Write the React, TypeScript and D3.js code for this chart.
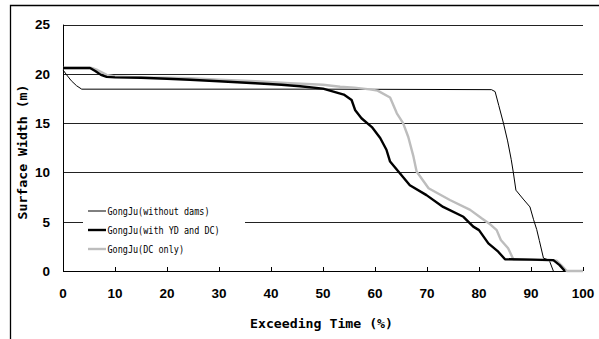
import React from 'react'
import * as d3 from 'd3'

// Exceeding time (%) / surface width (m) pairs
const withoutDamsX = [0, 0.7, 1.6, 2.6, 3.6, 20, 50, 82.4, 83.1, 83.8, 84.7, 85.5, 86.2, 86.6, 87.1, 88.5, 89.8, 90.5, 91.1, 91.6, 92.4, 93.5, 94.3]
const withoutDamsY = [20.4, 19.9, 19.3, 18.8, 18.45, 18.45, 18.45, 18.4, 18.2, 16.8, 15, 13.2, 11.3, 10, 8.2, 7.3, 6.5, 5.2, 4.2, 3.1, 1.3, 1.1, 0]

const withDamsX = [0, 5.2, 6.2, 7.3, 8.4, 10, 15, 20, 24.4, 30, 37, 42, 45.6, 50, 52, 54, 55.5, 56.2, 57.4, 59.4, 61, 62.2, 62.9, 64.5, 66.7, 69.9, 73.1, 77, 78.9, 80, 81.8, 83.7, 85, 90, 94.3, 95.5, 96.5]
const withDamsY = [20.6, 20.6, 20.3, 19.9, 19.7, 19.65, 19.6, 19.5, 19.4, 19.25, 19.05, 18.9, 18.75, 18.5, 18.2, 17.9, 17.35, 16.3, 15.5, 14.6, 13.5, 12.3, 11.1, 10.1, 8.7, 7.7, 6.5, 5.5, 4.5, 4.15, 2.8, 1.96, 1.19, 1.15, 1.1, 0.6, 0]

const dcOnlyX = [0, 5.5, 6.6, 8.4, 10, 15, 20, 24.4, 30, 37, 43.7, 50, 53.3, 56, 59, 60.5, 62.9, 64.2, 65.4, 66.4, 67.4, 68, 70.3, 74.4, 78.3, 80.5, 82, 83.4, 84.2, 85.6, 86.6, 90, 94.9, 95.8, 96.9, 100]
const dcOnlyY = [20.6, 20.6, 20.4, 19.9, 19.75, 19.65, 19.6, 19.55, 19.4, 19.25, 19.05, 18.9, 18.7, 18.6, 18.43, 18.3, 17.6, 16, 15, 13.6, 11.6, 10.1, 8.4, 7.2, 6.2, 5.35, 4.8, 4.15, 3.15, 2.3, 1.19, 1.15, 1.05, 0.6, 0, 0]

const xTicks = [0, 10, 20, 30, 40, 50, 60, 70, 80, 90, 100]
const yTicks = [0, 5, 10, 15, 20, 25]

const legendNames = ['GongJu(without dams)', 'GongJu(with YD and DC)', 'GongJu(DC only)']

const W = 599
const H = 339
const plot = { left: 63, right: 583, top: 24.6, bottom: 271 }

export default function App() {
  const x = d3.scaleLinear().domain([0, 100]).range([plot.left, plot.right])
  const y = d3.scaleLinear().domain([0, 25]).range([plot.bottom, plot.top])
  const line = d3
    .line<[number, number]>()
    .x(d => x(d[0]))
    .y(d => y(d[1]))

  const series = [
    { name: legendNames[0], xs: withoutDamsX, ys: withoutDamsY, color: '#000', width: 1 },
    { name: legendNames[1], xs: withDamsX, ys: withDamsY, color: '#000', width: 2.4 },
    { name: legendNames[2], xs: dcOnlyX, ys: dcOnlyY, color: '#bdbdbd', width: 2.4 },
  ]
  // draw order: thin, gray, then thick black on top where they overlap
  const drawOrder = [0, 2, 1]

  const mono = '"DejaVu Sans Mono", "Liberation Mono", monospace'
  const sans = '"Liberation Sans", Arial, sans-serif'

  return (
    <div style={{ position: 'absolute', left: 0, top: 0 }}>
      <svg width={W} height={H} style={{ display: 'block', background: '#fff' }}>
        {/* outer frame */}
        <path d={`M10.5 ${H} L10.5 5.5 L${W} 5.5`} fill="none" stroke="#000" strokeWidth={1.3} />

        {/* gridlines */}
        {yTicks.filter(t => t > 0).map(t => (
          <line key={t} x1={plot.left} x2={plot.right} y1={Math.round(y(t)) + 0.5} y2={Math.round(y(t)) + 0.5} stroke="#222" strokeWidth={1} />
        ))}

        {/* axes */}
        <line x1={plot.left + 0.5} x2={plot.left + 0.5} y1={y(25)} y2={plot.bottom} stroke="#000" strokeWidth={1} />
        <line x1={plot.left} x2={plot.right} y1={plot.bottom + 0.5} y2={plot.bottom + 0.5} stroke="#000" strokeWidth={1.2} />
        {xTicks.map(t => (
          <line key={t} x1={Math.round(x(t)) + 0.5} x2={Math.round(x(t)) + 0.5} y1={plot.bottom - 4} y2={plot.bottom} stroke="#000" strokeWidth={1} />
        ))}

        {/* legend background hides gridline */}
        <rect x={83} y={200} width={162} height={58} fill="#fff" />

        {/* series */}
        {drawOrder.map(i => {
          const s = series[i]
          const pts = s.xs.map((v, k) => [v, s.ys[k]] as [number, number])
          return (
            <path key={s.name} d={line(pts) ?? ''} fill="none" stroke={s.color} strokeWidth={s.width} strokeLinejoin="round" />
          )
        })}

        {/* tick labels */}
        {xTicks.map(t => (
          <text key={t} x={x(t)} y={298} textAnchor="middle" fontFamily={sans} fontWeight="bold" fontSize={13.5}>
            {t}
          </text>
        ))}
        {yTicks.map(t => (
          <text key={t} x={50} y={y(t) + 4.8} textAnchor="end" fontFamily={sans} fontWeight="bold" fontSize={13.5}>
            {t}
          </text>
        ))}

        {/* axis titles */}
        <text x={321.5} y={328} textAnchor="middle" fontFamily={mono} fontWeight="bold" fontSize={13} textLength={143} lengthAdjust="spacingAndGlyphs">
          Exceeding Time (%)
        </text>
        <text
          transform={`translate(27, 152) rotate(-90)`}
          textAnchor="middle"
          fontFamily={mono}
          fontWeight="bold"
          fontSize={13}
          textLength={135}
          lengthAdjust="spacingAndGlyphs"
        >
          Surface Width (m)
        </text>

        {/* legend */}
        {series.map((s, i) => {
          const ly = 211 + i * 19
          return (
            <g key={s.name}>
              <line x1={88} x2={106} y1={ly} y2={ly} stroke={s.color} strokeWidth={s.width} />
              <text x={107.5} y={ly + 4} fontFamily={mono} fontSize={11} textLength={s.name.length * 5.1} lengthAdjust="spacingAndGlyphs">
                {s.name}
              </text>
            </g>
          )
        })}
      </svg>
    </div>
  )
}
